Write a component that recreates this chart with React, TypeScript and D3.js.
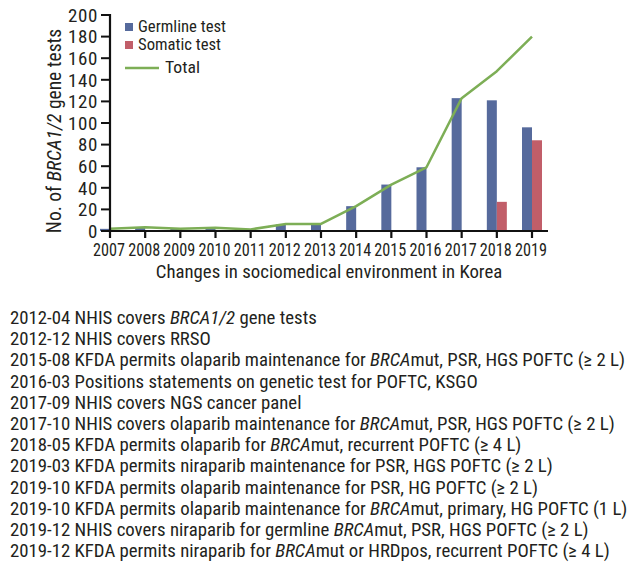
import React from "react";
import * as d3 from "d3";

const years = ["2007","2008","2009","2010","2011","2012","2013","2014","2015","2016","2017","2018","2019"];
const germline = [2, 3, 2, 3, 1.5, 6, 6, 23, 43, 59, 123, 121, 96];
const somatic = [0, 0, 0, 0, 0, 0, 0, 0, 0, 0, 0, 27, 84];
const total = [2, 3.5, 2, 3, 1.5, 6.5, 6.5, 23, 43, 59, 123, 148, 180];
const yTicks = [0, 20, 40, 60, 80, 100, 120, 140, 160, 180, 200];

type Seg = { t: string; i?: boolean };
const events: Seg[][] = [
  [{ t: "2012-04 NHIS covers " }, { t: "BRCA1/2", i: true }, { t: " gene tests" }],
  [{ t: "2012-12 NHIS covers RRSO" }],
  [{ t: "2015-08 KFDA permits olaparib maintenance for " }, { t: "BRCA", i: true }, { t: "mut, PSR, HGS POFTC (\u2265 2 L)" }],
  [{ t: "2016-03 Positions statements on genetic test for POFTC, KSGO" }],
  [{ t: "2017-09 NHIS covers NGS cancer panel" }],
  [{ t: "2017-10 NHIS covers olaparib maintenance for " }, { t: "BRCA", i: true }, { t: "mut, PSR, HGS POFTC (\u2265 2 L)" }],
  [{ t: "2018-05 KFDA permits olaparib for " }, { t: "BRCA", i: true }, { t: "mut, recurrent POFTC (\u2265 4 L)" }],
  [{ t: "2019-03 KFDA permits niraparib maintenance for PSR, HGS POFTC (\u2265 2 L)" }],
  [{ t: "2019-10 KFDA permits olaparib maintenance for PSR, HG POFTC (\u2265 2 L)" }],
  [{ t: "2019-10 KFDA permits olaparib maintenance for " }, { t: "BRCA", i: true }, { t: "mut, primary, HG POFTC (1 L)" }],
  [{ t: "2019-12 NHIS covers niraparib for germline " }, { t: "BRCA", i: true }, { t: "mut, PSR, HGS POFTC (\u2265 2 L)" }],
  [{ t: "2019-12 KFDA permits niraparib for " }, { t: "BRCA", i: true }, { t: "mut or HRDpos, recurrent POFTC (\u2265 4 L)" }],
];

const FONT = "'Liberation Sans Narrow', 'Roboto Condensed', 'Liberation Sans', sans-serif";
const BLUE = "#566a9c";
const RED = "#c15e69";
const GREEN = "#7dae56";
const TXT = "#231f20";

export default function App() {
  const x = d3.scalePoint<string>().domain(years).range([110, 532]);
  const y = d3.scaleLinear().domain([0, 200]).range([231, 15]);
  const barW = 10;
  const line = d3
    .line<number>()
    .x((_, i) => x(years[i]) as number)
    .y((d) => y(d));

  return (
    <svg width={635} height={569} style={{ position: "absolute", left: 0, top: 0 }} fontFamily={FONT}>
      <rect width={635} height={569} fill="#fff" />
      {years.map((yr, i) => (
        <g key={yr}>
          {germline[i] > 0 && (
            <rect x={(x(yr) as number) - barW} y={y(germline[i])} width={barW} height={y(0) - y(germline[i])} fill={BLUE} />
          )}
          {somatic[i] > 0 && (
            <rect x={x(yr) as number} y={y(somatic[i])} width={barW} height={y(0) - y(somatic[i])} fill={RED} />
          )}
        </g>
      ))}
      <path d={line(total) || ""} fill="none" stroke={GREEN} strokeWidth={2.5} strokeLinejoin="round" />
      <line x1={110} x2={110} y1={y(200) - 1} y2={y(0) + 1} stroke="#111" strokeWidth={2.2} />
      {yTicks.map((t) => (
        <g key={t}>
          <line x1={101} x2={110} y1={y(t)} y2={y(t)} stroke="#111" strokeWidth={2} />
          <text x={98} y={y(t)} dy="0.36em" textAnchor="end" fontSize={19} letterSpacing={0.6} fill={TXT}>{t}</text>
        </g>
      ))}
      <line x1={109} x2={548} y1={y(0)} y2={y(0)} stroke="#111" strokeWidth={2.2} />
      {years.map((yr) => (
        <g key={yr}>
          <line x1={x(yr) as number} x2={x(yr) as number} y1={y(0)} y2={y(0) + 7} stroke="#111" strokeWidth={2.2} />
          <text x={(x(yr) as number) - 1} y={256} textAnchor="middle" fontSize={18.5} textLength={32} lengthAdjust="spacingAndGlyphs" fill={TXT}>{yr}</text>
        </g>
      ))}
      <text x={329} y={278} textAnchor="middle" fontSize={18.8} fill={TXT}>Changes in sociomedical environment in Korea</text>
      <text transform="translate(61,131) rotate(-90)" textAnchor="middle" fontSize={19.5} fill={TXT}>
        No. of <tspan fontStyle="italic">BRCA1/2</tspan> gene tests
      </text>
      <rect x={125} y={23} width={8} height={8} fill={BLUE} />
      <text x={138} y={31.5} fontSize={16} textLength={88} lengthAdjust="spacingAndGlyphs" fill={TXT}>Germline test</text>
      <rect x={125} y={41} width={8} height={8} fill={RED} />
      <text x={138} y={50} fontSize={16} textLength={83} lengthAdjust="spacingAndGlyphs" fill={TXT}>Somatic test</text>
      <line x1={125} x2={159} y1={68} y2={68} stroke={GREEN} strokeWidth={2.5} />
      <text x={165} y={73} fontSize={16} textLength={35} lengthAdjust="spacingAndGlyphs" fill={TXT}>Total</text>
      {events.map((segs, i) => (
        <text key={i} x={10} y={324 + i * 21.2} fontSize={18.8} fill={TXT}>
          {segs.map((s, j) => (
            <tspan key={j} fontStyle={s.i ? "italic" : "normal"}>{s.t}</tspan>
          ))}
        </text>
      ))}
    </svg>
  );
}
